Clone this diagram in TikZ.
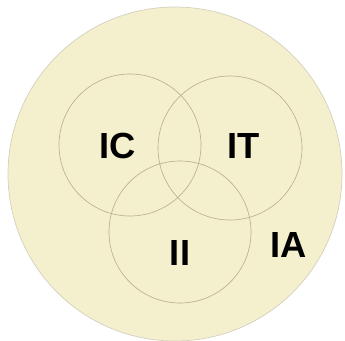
\documentclass[tikz,border=0pt]{standalone}
\usepackage{fontspec}
\setmainfont{Liberation Sans}
\definecolor{SandFill}{HTML}{F4EFCD}
\definecolor{SandLine}{HTML}{B8B094}
\usetikzlibrary{positioning}

\begin{document}
\begin{tikzpicture}[x=0.03cm, y=-0.03cm,
  outerset/.style={fill=SandFill, draw=SandLine!60, line width=0.6pt},
  subset/.style={draw=SandLine, line width=0.55pt},
  lbl/.style={font=\fontsize{31}{31}\selectfont\bfseries, text=black},
]
  \useasboundingbox (0, 0) rectangle (345, 340);

  % universe
  \draw[outerset] (175, 174) circle (167);

  % the three sets
  \draw[subset] (130, 145) circle (71);
  \draw[subset] (230, 148) circle (72);
  \draw[subset] (180, 232) circle (71);

  \node[lbl] (lic) at (118, 146) {IC};
  \node[lbl] (lit) at (244, 146) {IT};
  \node[lbl] (lii) at (180, 253) {II};
  \node[lbl] (lia) at (289, 245) {IA};
\end{tikzpicture}
\end{document}
